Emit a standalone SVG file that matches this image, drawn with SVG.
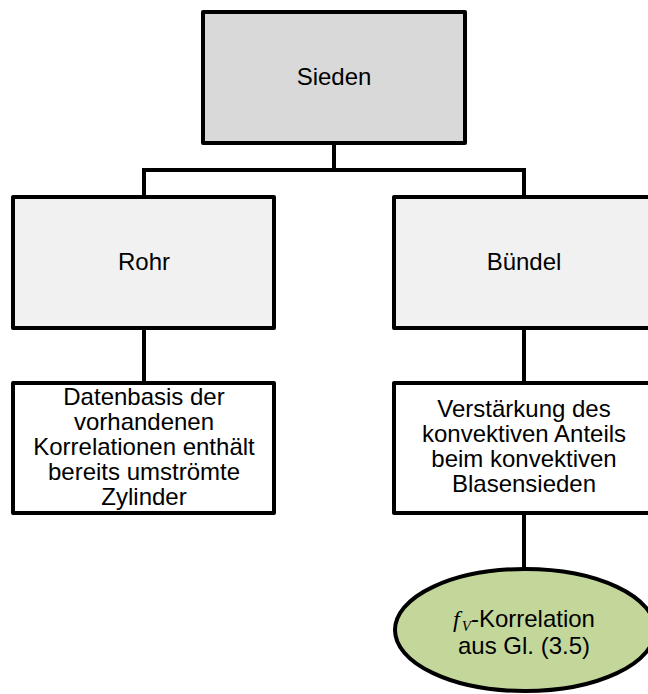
<svg xmlns="http://www.w3.org/2000/svg" width="648" height="694" viewBox="0 0 648 694">
<style>
.box{stroke:#000;stroke-width:4;stroke-linejoin:round}
.con{stroke:#000;stroke-width:4;fill:none}
text{font-family:"Liberation Sans",Arial,sans-serif;font-size:24px;fill:#000;text-anchor:middle}
.m{font-family:"Liberation Serif","Times New Roman",serif;font-style:italic}
</style>
<rect width="648" height="694" fill="#fff"/>
<g id="connectors">
<path class="con" d="M334 143V170M144 170H524M144 168V197M524 168V197M144 328V383M524 328V383M524 513V569"/>
</g>
<g id="sieden">
<rect class="box" x="203" y="12" width="262" height="131" fill="#d9d9d9"/>
<text x="334" y="85">Sieden</text>
</g>
<g id="rohr">
<rect class="box" x="13" y="197" width="261" height="131" fill="#f1f1f1"/>
<text x="144" y="270">Rohr</text>
</g>
<g id="buendel">
<rect class="box" x="394" y="197" width="261" height="131" fill="#f1f1f1"/>
<text x="524" y="270">Bündel</text>
</g>
<g id="datenbasis">
<rect class="box" x="13" y="383" width="261" height="130" fill="#fff"/>
<text x="144" y="405">Datenbasis der</text>
<text x="144" y="430">vorhandenen</text>
<text x="144" y="455">Korrelationen enthält</text>
<text x="144" y="480">bereits umströmte</text>
<text x="144" y="505">Zylinder</text>
</g>
<g id="verstaerkung">
<rect class="box" x="394" y="383" width="261" height="130" fill="#fff"/>
<text x="524" y="417">Verstärkung des</text>
<text x="524" y="442">konvektiven Anteils</text>
<text x="524" y="467">beim konvektiven</text>
<text x="524" y="492">Blasensieden</text>
</g>
<g id="fv">
<ellipse class="box" cx="525" cy="630" rx="130" ry="61" fill="#c4d79b"/>
<text x="524" y="627"><tspan class="m">f</tspan><tspan class="m" font-size="15" dx="2" dy="4">V</tspan><tspan dy="-4">-Korrelation</tspan></text>
<text x="524" y="654">aus Gl. (3.5)</text>
</g>
</svg>
